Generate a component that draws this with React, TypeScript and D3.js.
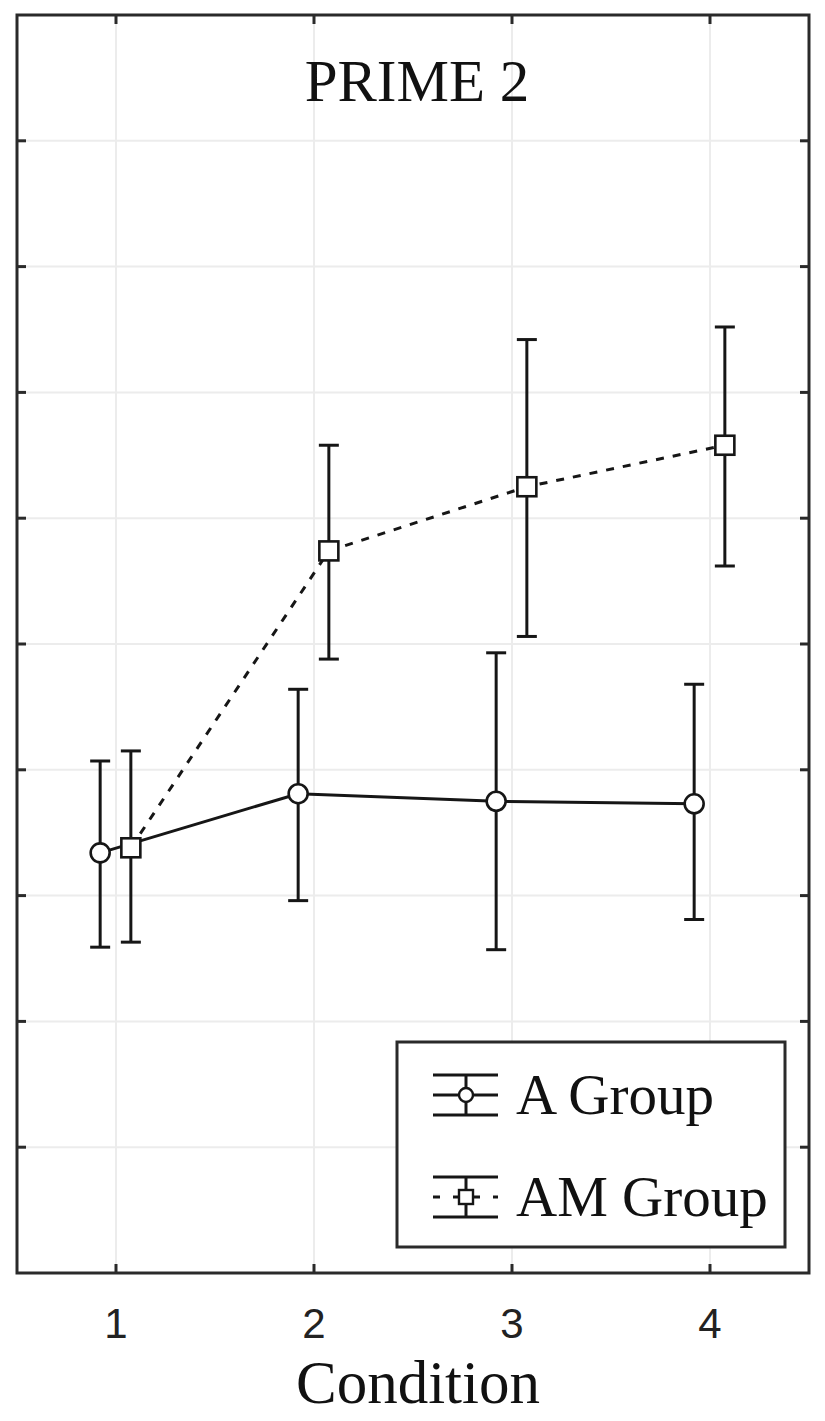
import React from "react";
import * as d3 from "d3";

// condition levels and group means / error-bar limits
const conditions = [1, 2, 3, 4];
const aMean = [3.34, 3.81, 3.75, 3.73];
const aUpper = [4.07, 4.64, 4.93, 4.68];
const aLower = [2.59, 2.96, 2.57, 2.81];
const amMean = [3.38, 5.74, 6.25, 6.58];
const amUpper = [4.15, 6.58, 7.42, 7.52];
const amLower = [2.63, 4.88, 5.06, 5.62];
const yTicks = [1, 2, 3, 4, 5, 6, 7, 8, 9];
const groupNames = ["A Group", "AM Group"];

const W = 825, H = 1421;
const left = 17, right = 809, top = 15, bottom = 1273;
const ink = "#161616";
const serif = "Liberation Serif, Times New Roman, serif";

export default function App() {
  const x = d3.scaleLinear().domain([0.5, 4.5]).range([left, right]);
  const y = d3.scaleLinear().domain([0, 10]).range([bottom, top]);

  const series = [
    { name: groupNames[0], mean: aMean, up: aUpper, lo: aLower, off: -0.08, shape: "circle", dash: null },
    { name: groupNames[1], mean: amMean, up: amUpper, lo: amLower, off: 0.075, shape: "square", dash: "8,9" },
  ];

  const line = d3.line<[number, number]>().x(d => d[0]).y(d => d[1]);

  return (
    <div style={{ position: "absolute", left: 0, top: 0 }}>
      <svg width={W} height={H} style={{ display: "block", background: "#fff" }}>
        {/* grid */}
        {yTicks.map(t => (
          <line key={"gy" + t} x1={left} x2={right} y1={y(t)} y2={y(t)} stroke="#ececec" strokeWidth={2} />
        ))}
        {conditions.map(c => (
          <line key={"gx" + c} x1={x(c)} x2={x(c)} y1={top} y2={bottom} stroke="#ececec" strokeWidth={2} />
        ))}

        {/* series lines */}
        {series.map(s => (
          <path
            key={"l" + s.name}
            d={line(conditions.map((c, i) => [x(c + s.off), y(s.mean[i])]) as [number, number][]) || ""}
            fill="none"
            stroke={ink}
            strokeWidth={3}
            strokeDasharray={s.dash || undefined}
          />
        ))}

        {/* error bars + markers */}
        {series.map(s =>
          conditions.map((c, i) => {
            const cx = x(c + s.off);
            return (
              <g key={s.name + c}>
                <line x1={cx} x2={cx} y1={y(s.up[i])} y2={y(s.lo[i])} stroke={ink} strokeWidth={3} />
                <line x1={cx - 10} x2={cx + 10} y1={y(s.up[i])} y2={y(s.up[i])} stroke={ink} strokeWidth={3} />
                <line x1={cx - 10} x2={cx + 10} y1={y(s.lo[i])} y2={y(s.lo[i])} stroke={ink} strokeWidth={3} />
                {s.shape === "circle" ? (
                  <circle cx={cx} cy={y(s.mean[i])} r={9.5} fill="#fff" stroke={ink} strokeWidth={2.6} />
                ) : (
                  <rect x={cx - 9.5} y={y(s.mean[i]) - 9.5} width={19} height={19} fill="#fff" stroke={ink} strokeWidth={2.6} />
                )}
              </g>
            );
          })
        )}

        {/* frame and inner ticks */}
        <rect x={left} y={top} width={right - left} height={bottom - top} fill="none" stroke="#2a2a2a" strokeWidth={3} />
        {yTicks.map(t => (
          <g key={"ty" + t}>
            <line x1={left} x2={left + 9} y1={y(t)} y2={y(t)} stroke="#2a2a2a" strokeWidth={3} />
            <line x1={right - 9} x2={right} y1={y(t)} y2={y(t)} stroke="#2a2a2a" strokeWidth={3} />
          </g>
        ))}
        {conditions.map(c => (
          <g key={"tx" + c}>
            <line x1={x(c)} x2={x(c)} y1={top} y2={top + 9} stroke="#2a2a2a" strokeWidth={3} />
            <line x1={x(c)} x2={x(c)} y1={bottom - 9} y2={bottom} stroke="#2a2a2a" strokeWidth={3} />
            <text x={x(c)} y={1338} textAnchor="middle" fontFamily="Liberation Sans, Arial, sans-serif" fontSize={42} fill="#222">
              {c}
            </text>
          </g>
        ))}

        {/* title and axis label */}
        <text x={417} y={101} textAnchor="middle" fontFamily={serif} fontSize={59} fill="#111">
          PRIME 2
        </text>
        <text x={418} y={1403} textAnchor="middle" fontFamily={serif} fontSize={61} fill="#111">
          Condition
        </text>

        {/* legend */}
        <rect x={397} y={1042} width={388} height={205} fill="#fff" stroke="#2a2a2a" strokeWidth={3} />
        {series.map((s, k) => {
          const cy = 1095 + k * 102;
          const cx = 466;
          return (
            <g key={"lg" + s.name}>
              <line x1={433} x2={498} y1={cy - 20} y2={cy - 20} stroke={ink} strokeWidth={3} />
              <line x1={433} x2={498} y1={cy + 20} y2={cy + 20} stroke={ink} strokeWidth={3} />
              <line x1={cx} x2={cx} y1={cy - 20} y2={cy + 20} stroke={ink} strokeWidth={3} />
              <line x1={433} x2={498} y1={cy} y2={cy} stroke={ink} strokeWidth={3} strokeDasharray={s.dash ? "7,13" : undefined} />
              {s.shape === "circle" ? (
                <circle cx={cx} cy={cy} r={7} fill="#fff" stroke={ink} strokeWidth={2.4} />
              ) : (
                <rect x={cx - 7} y={cy - 7} width={14} height={14} fill="#fff" stroke={ink} strokeWidth={2.4} />
              )}
              <text x={516} y={cy + 19} fontFamily={serif} fontSize={57} fill="#111">
                {s.name}
              </text>
            </g>
          );
        })}
      </svg>
    </div>
  );
}
